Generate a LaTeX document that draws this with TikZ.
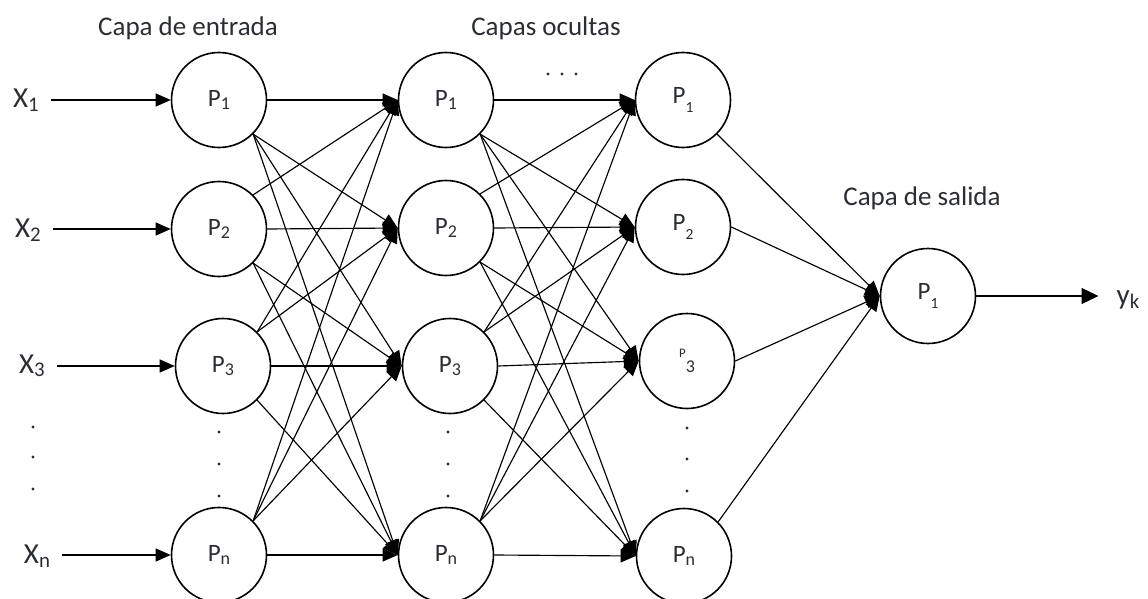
\documentclass[tikz,border=0pt]{standalone}
\usepackage{fontspec}
\setmainfont{Carlito}
\usetikzlibrary{arrows.meta}
\definecolor{txt}{HTML}{2A2E33}
\newcommand\lo[1]{\raisebox{-0.25ex}{\scalebox{0.72}{#1}}}
\newcommand\llo[1]{\raisebox{-0.7ex}{\scalebox{0.62}{#1}}}
\begin{document}
\begin{tikzpicture}[x=1pt,y=-1pt,
 neuron/.style={circle,draw,line width=1.6pt,minimum size=95pt,inner sep=0pt,font=\fontsize{25}{28}\selectfont,text=txt},
 conn/.style={line width=1.15pt,-{Triangle[length=15pt,width=13pt]}},
 conn2/.style={line width=1.15pt,-{Triangle[length=17pt,width=16pt]}},
 lbl/.style={font=\fontsize{27}{30}\selectfont,text=txt,inner sep=0pt},
 xl/.style={font=\fontsize{29}{32}\selectfont,text=txt,inner sep=0pt},
 dotf/.style={fill=txt}
]
\useasboundingbox (0,0) rectangle (1148,599);
% headings
\node[lbl] (h1) at (188,28) {Capa de entrada};
\node[lbl] (h2) at (546,28) {Capas ocultas};
\node[lbl] (h3) at (922,198) {Capa de salida};
% input layer
\node[neuron] (a1) at (219,100) {P\lo{1}};
\node[neuron] (a2) at (219,229) {P\lo{2}};
\node[neuron] (a3) at (223,366) {P\lo{3}};
\node[neuron] (a4) at (219,555) {P\lo{n}};
% hidden layer 1
\node[neuron] (b1) at (446,100) {P\lo{1}};
\node[neuron] (b2) at (446,228) {P\lo{2}};
\node[neuron] (b3) at (450,366) {P\lo{3}};
\node[neuron] (b4) at (446,555) {P\lo{n}};
% hidden layer 2
\node[neuron] (c1) at (683,100) {P\llo{1}};
\node[neuron] (c2) at (683,227) {P\llo{2}};
\node[neuron] (c3) at (687,361) {\raisebox{0.5em}{\fontsize{13}{13}\selectfont P}\raisebox{-0.1em}{\fontsize{18}{18}\selectfont 3}};
\node[neuron] (c4) at (684,556) {P\lo{n}};
% output
\node[neuron] (out) at (928,296) {P\llo{1}};
% inputs
\node[xl] (x1) at (26,100) {X\lo{1}};
\node[xl] (x2) at (28,230) {X\lo{2}};
\node[xl] (x3) at (32,366) {X\lo{3}};
\node[xl] (x4) at (37,556) {X\lo{n}};
\node[xl] (yk) at (1128,300) {y\lo{k}};
% connections
\foreach \s/\t in {a/b,b/c}{
 \foreach \i in {1,...,4}{
  \foreach \j in {1,...,4}{
   \ifnum\j<\i \def\anc{north east}\else\ifnum\j=\i \def\anc{east}\else\def\anc{south east}\fi\fi
   \draw[conn] (\s\i.\anc) -- (\t\j.west);
  }}}
\draw[conn] (c1.south east) -- (out.west);
\draw[conn] (c2.east) -- (out.west);
\draw[conn] (c3.east) -- (out.west);
\draw[conn] (c4.north east) -- (out.west);
\foreach \i in {1,...,4}
 \draw[conn,shorten <=12pt] (x\i.east |- a\i.west) -- (a\i.west);
\draw[conn2,shorten >=18pt] (out.east) -- (yk.west |- out.east);
% dots
\foreach \y in {427,457,489} \fill[dotf] (33,\y) circle (1.6pt);
\foreach \y in {432,464,496} {\fill[dotf] (219,\y) circle (1.6pt); \fill[dotf] (448,\y) circle (1.6pt);}
\foreach \y in {428,459,491} \fill[dotf] (687,\y) circle (1.6pt);
\foreach \x in {548,562,576} \fill[dotf] (\x,74) circle (1.6pt);
\end{tikzpicture}
\end{document}
